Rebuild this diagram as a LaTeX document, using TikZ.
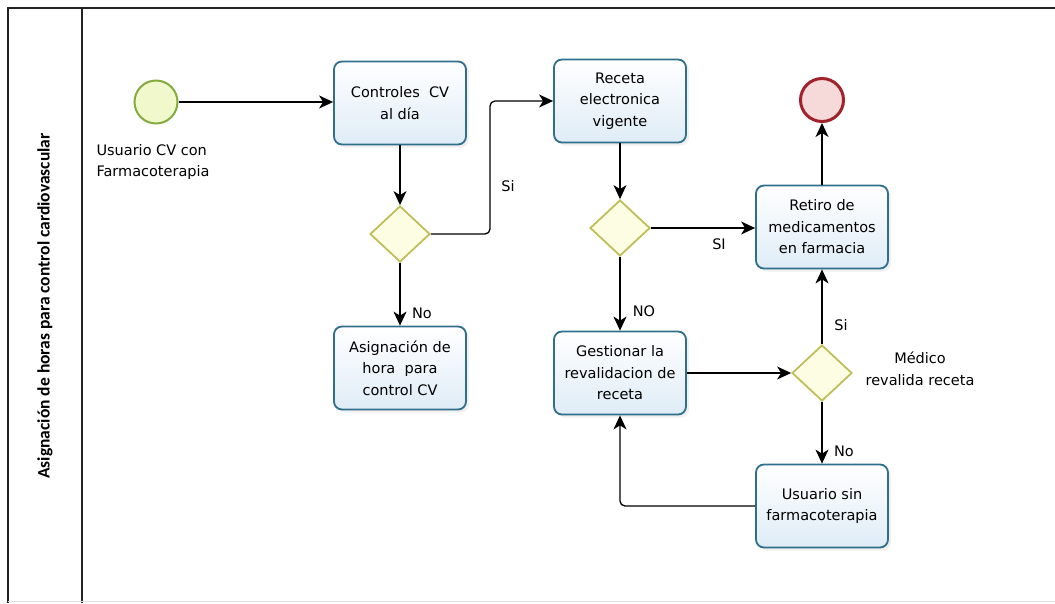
\documentclass[tikz,border=0pt]{standalone}
\usepackage{fontspec}
\setmainfont{DejaVu Sans}
\newfontfamily\lanefont{Carlito}
\usetikzlibrary{arrows.meta,shapes.geometric,shadows}

\definecolor{taskline}{HTML}{2F6F8C}
\definecolor{tasktop}{HTML}{FFFFFF}
\definecolor{taskbot}{HTML}{DFECF6}
\definecolor{gwline}{HTML}{BFBF5A}
\definecolor{gwfill}{HTML}{FDFDE3}
\definecolor{startline}{HTML}{84AA40}
\definecolor{startfill}{HTML}{F0F8CC}
\definecolor{endline}{HTML}{A1222A}
\definecolor{endfill}{HTML}{F6D9D9}
\definecolor{laneline}{HTML}{222222}

\begin{document}
\begin{tikzpicture}[x=1pt,y=-1pt,
  txt/.style={font=\fontsize{14.5}{21.5}\selectfont},
  task/.style={txt, draw=taskline, line width=1.8pt, rounded corners=8pt,
    top color=tasktop, bottom color=taskbot, align=center,
    minimum width=132pt, minimum height=83pt, inner sep=1pt,
    drop shadow={shadow xshift=3pt, shadow yshift=-3pt, opacity=0.12}},
  gateway/.style={diamond, draw=gwline, line width=1.8pt, fill=gwfill,
    minimum width=60pt, minimum height=56pt, inner sep=0pt},
  startev/.style={circle, draw=startline, line width=2pt, fill=startfill,
    minimum size=43pt, inner sep=0pt},
  endev/.style={circle, draw=endline, line width=3pt, fill=endfill,
    minimum size=43pt, inner sep=0pt},
  flow/.style={draw=black, line width=1.3pt,
    -{Stealth[length=14pt,width=13pt,inset=4pt]}},
  elabel/.style={txt, inner sep=1pt},
  lane/.style={draw=laneline, line width=1.4pt}]

% page extent
\useasboundingbox (0,0) rectangle (1055,603);

% pool and lane header
\draw[lane] (1055,8) -- (8,8) -- (8,603);
\draw[lane] (82,8) -- (82,603);
\draw[gray!25, line width=1pt] (8,601) -- (1055,601);
\node[rotate=90, font=\lanefont\bfseries\fontsize{17.5}{20}\selectfont] (lanetitle) at (45,306)
  {Asignación de horas para control cardiovascular};

% events
\node[startev] (start) at (156,102) {};
\node[txt, anchor=west, align=left] (startlbl) at (93,162) {Usuario CV con\\Farmacoterapia};
\node[endev] (end) at (822,100) {};

% tasks
\node[task] (ctrl) at (400,103) {Controles\ \ CV\\al día};
\node[task] (asig) at (400,368) {Asignación de\\hora\ \ para\\control CV};
\node[task] (rec)  at (620,101) {Receta\\electronica\\vigente};
\node[task] (gest) at (620,373) {Gestionar la\\revalidacion de\\receta};
\node[task] (ret)  at (822,227) {Retiro de\\medicamentos\\en farmacia};
\node[task] (usr)  at (822,506) {Usuario sin\\farmacoterapia};

% gateways
\node[gateway] (gw1) at (400,234) {};
\node[gateway] (gw2) at (620,228) {};
\node[gateway] (gw3) at (822,373) {};
\node[txt, align=center] (gw3lbl) at (920,369) {Médico\\revalida receta};

% sequence flows
\coordinate (bend1) at (490,234);
\draw[flow] (start.east) -- (start.east -| ctrl.west);
\draw[flow] (ctrl) -- (gw1);
\draw[flow, rounded corners=5pt] (gw1.east) -- (bend1) |- (rec.west);
\draw[flow] (gw1) -- (asig);
\draw[flow] (rec) -- (gw2);
\draw[flow] (gw2.east) -- (gw2.east -| ret.west);
\draw[flow] (gw2) -- (gest);
\draw[flow] (ret) -- (end);
\draw[flow] (gest) -- (gw3);
\draw[flow] (gw3) -- (ret);
\draw[flow] (gw3) -- (usr);
\draw[flow, rounded corners=5pt] (usr.west) -| (gest.south);

% flow labels
\node[elabel] (l1) at (508,186) {Si};
\node[elabel] (l2) at (422,313) {No};
\node[elabel] (l3) at (719,244) {SI};
\node[elabel] (l4) at (644,311) {NO};
\node[elabel] (l5) at (841,325) {Si};
\node[elabel] (l6) at (844,451) {No};
\end{tikzpicture}
\end{document}
